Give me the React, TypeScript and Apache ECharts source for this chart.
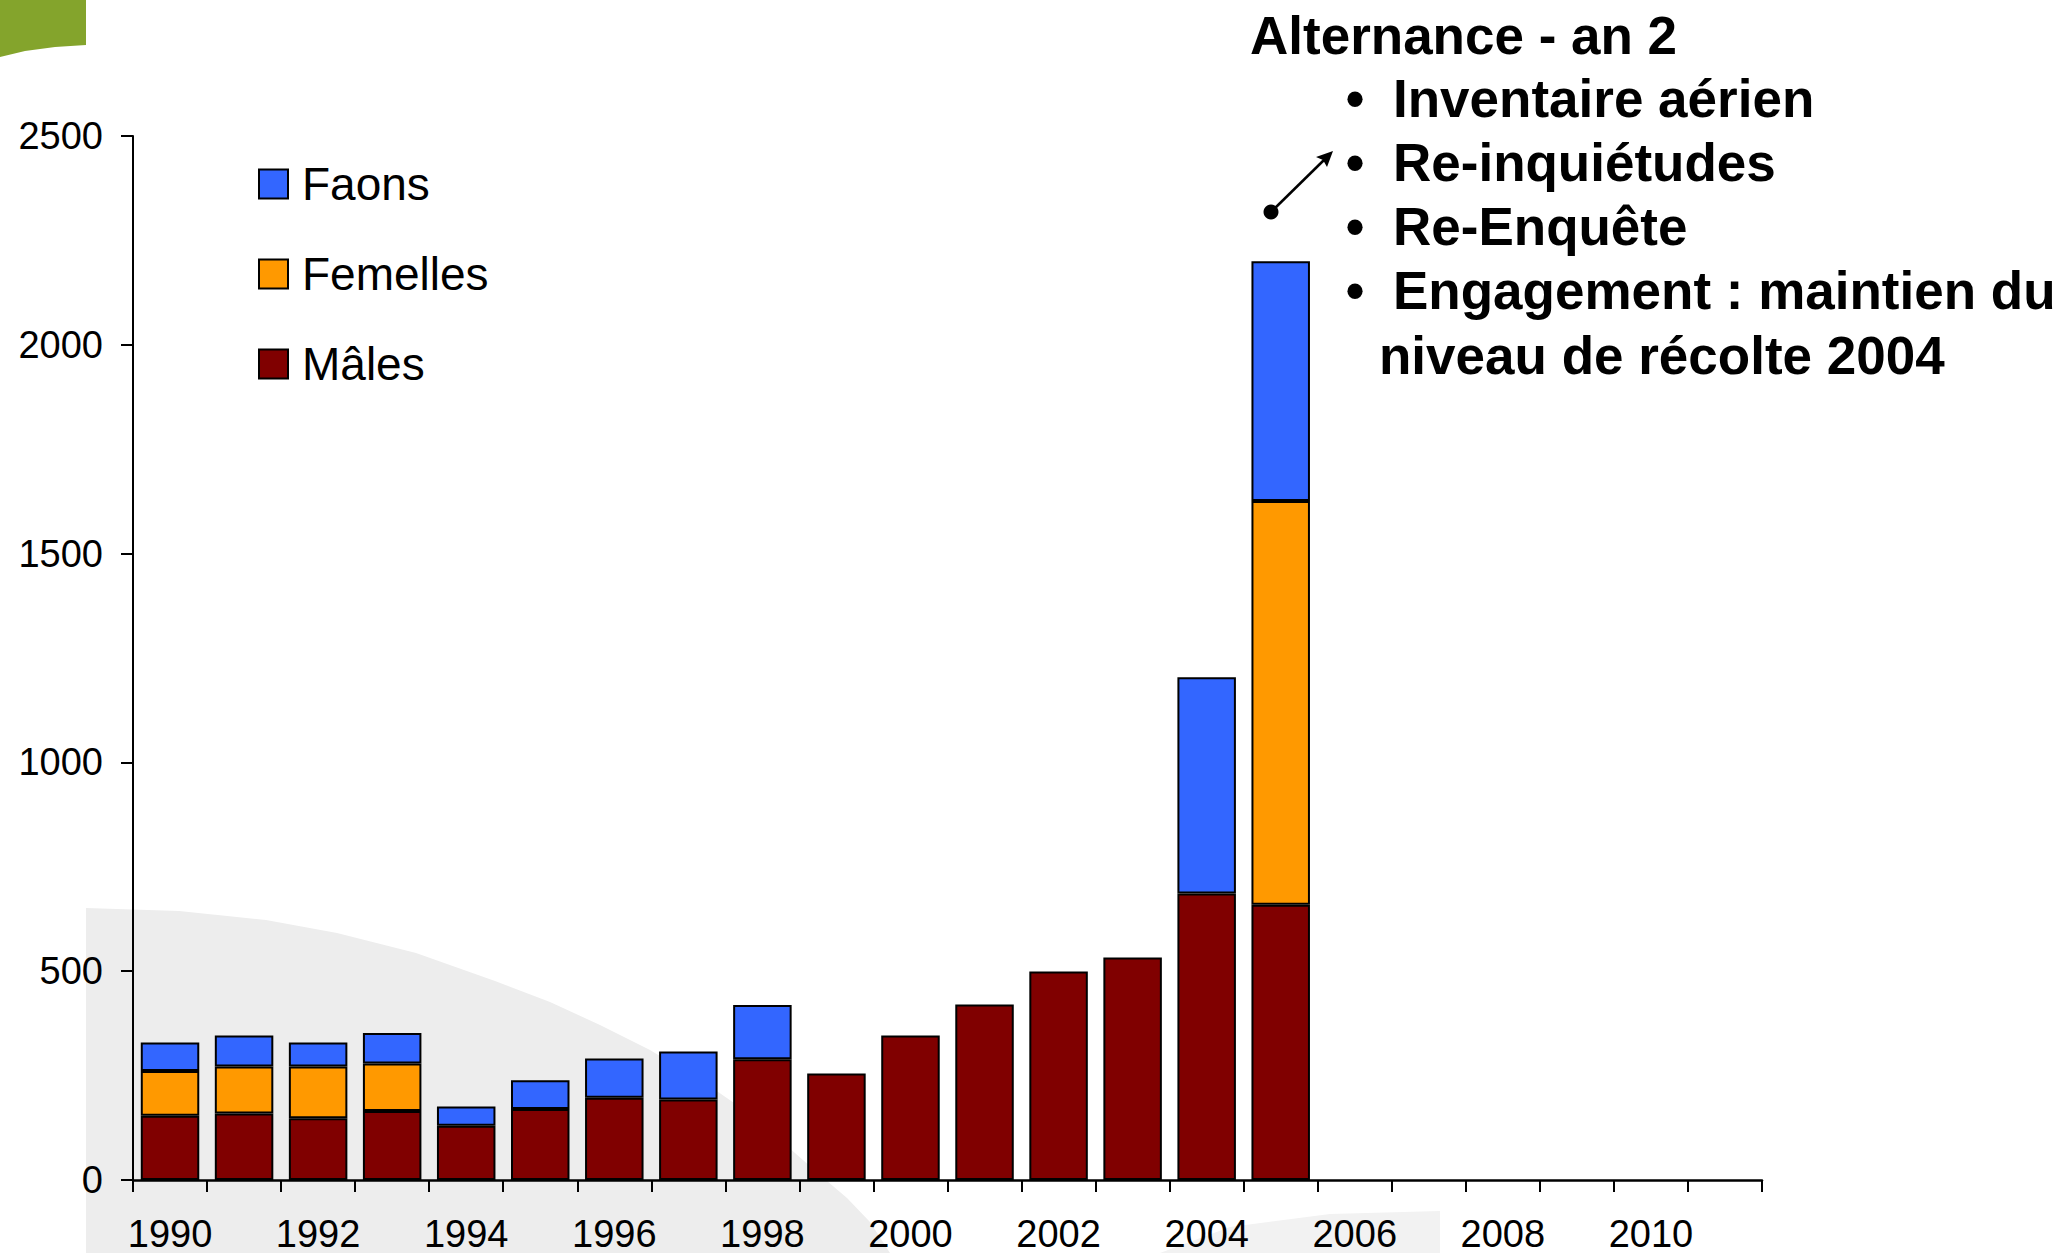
import React, { useEffect, useRef } from "react";
import * as echarts from "echarts";

const years = ["1990","1991","1992","1993","1994","1995","1996","1997","1998","1999","2000","2001","2002","2003","2004","2005","2006","2007","2008","2009","2010","2011"];
const males = [154, 159, 148, 165, 130, 170, 197, 193, 289, 255, 346, 420, 499, 533, 686, 659, null, null, null, null, null, null];
const femelles = [107, 113, 124, 114, null, null, null, null, null, null, null, null, null, null, null, 967, null, null, null, null, null, null];
const faons = [68, 74, 57, 73, 46, 69, 94, 115, 130, null, null, null, null, null, 518, 574, null, null, null, null, null, null];

const titleText = "Alternance - an 2";
const bulletLines = ["Inventaire aérien", "Re-inquiétudes", "Re-Enquête", "Engagement : maintien du"];
const lastLine = "niveau de récolte 2004";

const FONT = '"Liberation Sans", Arial, Helvetica, sans-serif';

export default function App() {
  const ref = useRef<HTMLDivElement>(null);
  useEffect(() => {
    if (!ref.current) return;
    const chart = echarts.init(ref.current, null, { renderer: "svg" });
    const lineYs = [98, 162, 226, 290];
    const graphics: any[] = [
      {
        type: "polygon",
        z: -10,
        silent: true,
        shape: { points: [[0, 0], [86, 0], [86, 45], [55, 47], [25, 51], [0, 57]] },
        style: { fill: "#84A42C" },
      },
      {
        type: "polygon",
        z: -10,
        silent: true,
        shape: {
          points: [
            [86, 1253], [86, 908], [179, 911], [266, 920], [337, 933], [416, 953], [495, 981],
            [550, 1002], [600, 1025], [650, 1050], [708, 1085], [750, 1114], [787, 1146],
            [820, 1175], [847, 1198], [870, 1222], [890, 1253],
          ],
        },
        style: { fill: "#EDEDED" },
      },
      {
        type: "polygon",
        z: -10,
        silent: true,
        shape: { points: [[1160, 1253], [1230, 1227], [1330, 1214], [1440, 1211], [1440, 1253]] },
        style: { fill: "#F2F2F2" },
      },
      {
        type: "text",
        z: 100,
        style: { text: titleText, x: 1250, y: 35, verticalAlign: "middle", font: `bold 53px ${FONT}`, fill: "#000" },
      },
    ];
    bulletLines.forEach((t, i) => {
      graphics.push({
        type: "text",
        z: 100,
        style: { text: "•", x: 1355, y: lineYs[i], align: "center", verticalAlign: "middle", font: `bold 53px ${FONT}`, fill: "#000" },
      });
      graphics.push({
        type: "text",
        z: 100,
        style: { text: t, x: 1393, y: lineYs[i], verticalAlign: "middle", font: `bold 53px ${FONT}`, fill: "#000" },
      });
    });
    graphics.push({
      type: "text",
      z: 100,
      style: { text: lastLine, x: 1379, y: 355, verticalAlign: "middle", font: `bold 53px ${FONT}`, fill: "#000" },
    });
    // arrow
    graphics.push({
      type: "line",
      z: 100,
      shape: { x1: 1271, y1: 212, x2: 1324, y2: 160 },
      style: { stroke: "#000", lineWidth: 2.5 },
    });
    graphics.push({
      type: "polygon",
      z: 100,
      shape: { points: [[1333, 151], [1327, 167], [1323, 160], [1316, 157]] },
      style: { fill: "#000" },
    });
    graphics.push({
      type: "circle",
      z: 100,
      shape: { cx: 1271, cy: 212, r: 7.5 },
      style: { fill: "#000" },
    });

    const itemBase = { borderColor: "#000", borderWidth: 2 };
    chart.setOption({
      animation: false,
      backgroundColor: "#fff",
      textStyle: { fontFamily: FONT },
      grid: { left: 133, right: 305, top: 136, bottom: 73, containLabel: false },
      legend: {
        orient: "vertical",
        left: 253,
        top: 156,
        itemWidth: 29,
        itemHeight: 29,
        itemGap: 44,
        icon: "rect",
        data: ["Faons", "Femelles", "Mâles"],
        textStyle: { fontSize: 46, color: "#000", fontFamily: FONT, lineHeight: 46, padding: [0, 0, 0, 9] },
      },
      xAxis: {
        type: "category",
        data: years,
        boundaryGap: true,
        axisLine: { show: true, lineStyle: { color: "#000", width: 2.5 } },
        axisTick: { show: true, interval: 0, length: 12, inside: false, lineStyle: { color: "#000", width: 2 } },
        axisLabel: { interval: 1, fontSize: 38, color: "#000", margin: 35, fontFamily: FONT },
        splitLine: { show: false },
      },
      yAxis: {
        type: "value",
        min: 0,
        max: 2500,
        interval: 500,
        axisLine: { show: true, lineStyle: { color: "#000", width: 2 } },
        axisTick: { show: true, length: 12, inside: false, lineStyle: { color: "#000", width: 2 } },
        axisLabel: { fontSize: 38, color: "#000", margin: 30, fontFamily: FONT, formatter: (v: number) => String(v) },
        splitLine: { show: false },
      },
      series: [
        { name: "Mâles", type: "bar", stack: "total", data: males, barCategoryGap: "21%", itemStyle: { ...itemBase, color: "#800000" } },
        { name: "Femelles", type: "bar", stack: "total", data: femelles, barCategoryGap: "21%", itemStyle: { ...itemBase, color: "#FF9900" } },
        { name: "Faons", type: "bar", stack: "total", data: faons, barCategoryGap: "21%", itemStyle: { ...itemBase, color: "#3366FF" } },
      ],
      graphic: { elements: graphics },
    });
    return () => chart.dispose();
  }, []);
  return (
    <div
      ref={ref}
      style={{ position: "fixed", left: 0, top: 0, width: 2067, height: 1253, background: "#fff" }}
    />
  );
}
